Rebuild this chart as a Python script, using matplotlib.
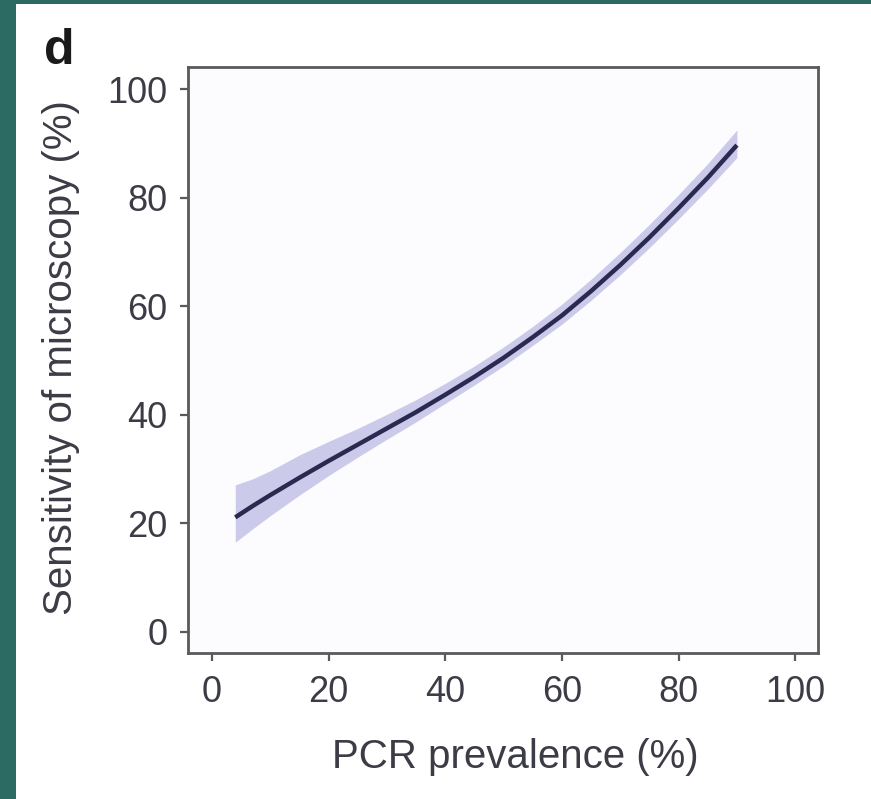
import matplotlib
matplotlib.use("Agg")
import matplotlib.pyplot as plt
from matplotlib.patches import Rectangle

plt.rcParams['font.family'] = ['Liberation Sans', 'DejaVu Sans']

# Data
pcr_prevalence = [4, 7, 10, 15, 20, 25, 30, 35, 40, 45, 50, 55, 60, 65, 70, 75, 80, 85, 90]
sensitivity = [21.1, 23.2, 25.2, 28.4, 31.5, 34.5, 37.5, 40.5, 43.7, 47.0, 50.5,
               54.3, 58.3, 62.8, 67.6, 72.7, 78.1, 83.7, 89.7]
sens_upper = [27.1, 28.2, 29.7, 32.6, 35.1, 37.5, 40.1, 42.8, 45.8, 49.0, 52.5,
              56.3, 60.4, 65.0, 69.9, 75.1, 80.6, 86.3, 92.5]
sens_lower = [16.5, 19.0, 21.4, 25.2, 28.8, 32.2, 35.5, 38.7, 42.1, 45.5, 49.0,
              52.8, 56.7, 61.1, 65.8, 70.8, 76.1, 81.6, 87.4]
xticks = [0, 20, 40, 60, 80, 100]
yticks = [0, 20, 40, 60, 80, 100]

W, H = 871, 799
fig = plt.figure(figsize=(W / 100, H / 100), dpi=100)
fig.patch.set_facecolor('#2c6a64')
bg = Rectangle((16 / W, 0), 1 - 16 / W, 1 - 4 / H,
               transform=fig.transFigure, facecolor='white',
               edgecolor='none', zorder=-10)
fig.add_artist(bg)

ax = fig.add_axes([188 / W, 1 - 653 / H, (818 - 188) / W, (653 - 67) / H])
ax.set_zorder(5)
ax.set_facecolor('#fcfcfe')

ax.fill_between(pcr_prevalence, sens_lower, sens_upper, color='#cac8e9',
                linewidth=0, alpha=0.95)
ax.plot(pcr_prevalence, sensitivity, color='#2b2950', linewidth=3.2,
        solid_capstyle='butt', solid_joinstyle='round')

ax.set_xlim(-4.1, 103.9)
ax.set_ylim(-3.9, 104.1)
ax.set_xticks(xticks)
ax.set_yticks(yticks)

spine_color = '#5a5a5a'
for s in ax.spines.values():
    s.set_color(spine_color)
    s.set_linewidth(2.0)

text_color = '#3c3c46'
ax.tick_params(axis='both', direction='out', length=6, width=1.6,
               color=spine_color, labelsize=26, labelcolor=text_color)
ax.tick_params(axis='x', pad=10)
ax.tick_params(axis='y', pad=9)

ax.set_xlabel('PCR prevalence (%)', fontsize=29, color=text_color, labelpad=20)
ax.xaxis.set_label_coords(0.52, -0.145)
ax.set_ylabel('Sensitivity of microscopy (%)', fontsize=29, color=text_color)
ax.yaxis.set_label_coords(-0.172, 0.505)

fig.text(44 / W, 1 - 64 / H, 'd', fontsize=36, fontweight='bold',
         color='#1a1a1a', ha='left', va='baseline')

fig.savefig('out.png', dpi=100, facecolor=fig.get_facecolor())
